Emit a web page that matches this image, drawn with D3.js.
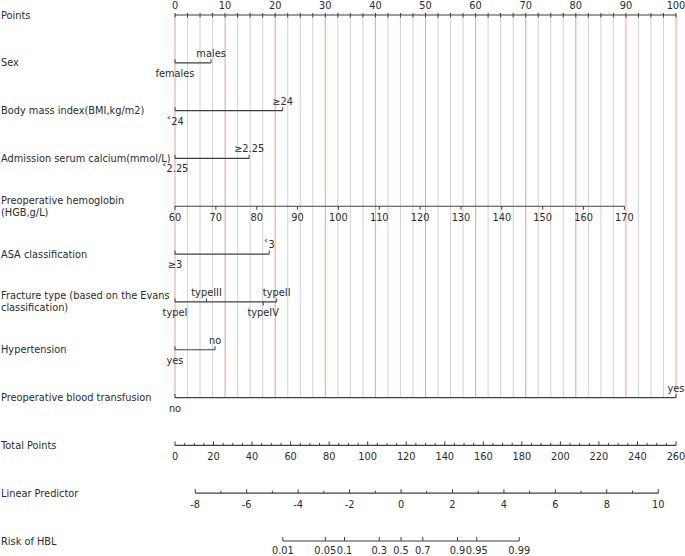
<!DOCTYPE html>
<html>
<head>
<meta charset="utf-8">
<script src="https://cdn.jsdelivr.net/npm/d3@7"></script>
<style>
  body { margin: 0; background: #fff; }
  text { font-family: "DejaVu Sans", sans-serif; fill: #2b2b2b; }
</style>
</head>
<body>
<script>
// rows of the nomogram, top to bottom
const rowLabels = [
  ["Points"],
  ["Sex"],
  ["Body mass index(BMI,kg/m2)"],
  ["Admission serum calcium(mmol/L)"],
  ["Preoperative hemoglobin", "(HGB,g/L)"],
  ["ASA classification"],
  ["Fracture type (based on the Evans", "classification)"],
  ["Hypertension"],
  ["Preoperative blood transfusion"],
  ["Total Points"],
  ["Linear Predictor"],
  ["Risk of HBL"]
];

const pointTicks = [0, 10, 20, 30, 40, 50, 60, 70, 80, 90, 100];

// categorical predictors: level names and their points
const sexLevels = ["females", "males"];
const sexPoints = [0, 7.2];
const bmiLevels = ["˂24", "≥24"];
const bmiPoints = [0, 21.5];
const calciumLevels = ["˂2.25", "≥2.25"];
const calciumPoints = [0, 14.8];
const asaLevels = ["≥3", "˂3"];
const asaPoints = [0, 18.8];
const fractureLevels = ["typeI", "typeIII", "typeIV", "typeII"];
const fracturePoints = [0, 6.3, 17.6, 20.3];
const hyperLevels = ["yes", "no"];
const hyperPoints = [0, 8.0];
const transfusionLevels = ["no", "yes"];
const transfusionPoints = [0, 100];

// continuous predictor: hemoglobin
const hgbTicks = [60, 70, 80, 90, 100, 110, 120, 130, 140, 150, 160, 170];
const hgbRange = [60, 170];
const hgbPointsRange = [0, 89.7];

// total points, linear predictor, risk
const totalTicks = [0, 20, 40, 60, 80, 100, 120, 140, 160, 180, 200, 220, 240, 260];
const totalRange = [0, 260];
const lpTicks = [-8, -6, -4, -2, 0, 2, 4, 6, 8, 10];
const lpRange = [-8, 10];
const lpTotalPoints = [10.5, 250.8];   // total points where LP = -8 and LP = 10
const riskTicks = [0.01, 0.05, 0.1, 0.3, 0.5, 0.7, 0.9, 0.95, 0.99];
const riskLabels = ["0.01", "0.05", "0.1", "0.3", "0.5", "0.7", "0.9", "0.95", "0.99"];

const W = 685, H = 556;
const svg = d3.select("body").append("svg").attr("width", W).attr("height", H);

const x = d3.scaleLinear().domain([0, 100]).range([175, 676]);
const y = d3.scalePoint().domain(d3.range(rowLabels.length)).range([15, 541]);
const lineCol = "#3f3f3f";
const fs = 9.8;

// vertical grid
const gridVals = d3.range(0, 100.01, 2.5);
svg.append("g").selectAll("line").data(gridVals).join("line")
  .attr("x1", d => x(d)).attr("x2", d => x(d))
  .attr("y1", y(0)).attr("y2", y(8))
  .attr("stroke", d => d % 10 === 0 ? "#f5a59c" : "#d6d6d6")
  .attr("stroke-width", 1.1);

// row labels
rowLabels.forEach((lines, i) => {
  const t = svg.append("text").attr("x", 1).attr("font-size", fs);
  const y0 = y(i) + 3.5 - (lines.length - 1) * 6;
  lines.forEach((s, j) => t.append("tspan").attr("x", 1).attr("y", y0 + j * 12).text(s));
});

function hline(g, x1, x2, yy) {
  g.append("line").attr("x1", x1).attr("x2", x2).attr("y1", yy).attr("y2", yy)
    .attr("stroke", lineCol).attr("stroke-width", 1.2);
}

// Points axis
{
  const g = svg.append("g");
  hline(g, x(0), x(100), y(0));
  g.selectAll(".mt").data(gridVals).join("line")
    .attr("x1", d => x(d)).attr("x2", d => x(d))
    .attr("y1", y(0) - 2).attr("y2", y(0) + 2.5)
    .attr("stroke", lineCol);
  g.selectAll("text").data(pointTicks).join("text")
    .attr("x", d => x(d)).attr("y", y(0) - 6)
    .attr("text-anchor", "middle").attr("font-size", fs)
    .text(d => d);
}

// categorical rows
function catRow(row, levels, pts, below) {
  const g = svg.append("g");
  const yy = y(row);
  hline(g, x(d3.min(pts)), x(d3.max(pts)), yy);
  levels.forEach((lv, i) => {
    const isBelow = below.includes(lv);
    const xx = x(pts[i]);
    const up = (i === 0 || i === levels.length - 1) ? true : !isBelow;
    g.append("line").attr("x1", xx).attr("x2", xx)
      .attr("y1", yy).attr("y2", up ? yy - 3.5 : yy + 3.5)
      .attr("stroke", lineCol).attr("stroke-width", 1);
    g.append("text").attr("x", xx).attr("y", isBelow ? yy + 14 : yy - 6)
      .attr("text-anchor", "middle").attr("font-size", fs).text(lv);
  });
}
catRow(1, sexLevels, sexPoints, ["females"]);
catRow(2, bmiLevels, bmiPoints, ["˂24"]);
catRow(3, calciumLevels, calciumPoints, ["˂2.25"]);
catRow(5, asaLevels, asaPoints, ["≥3"]);
catRow(6, fractureLevels, fracturePoints, ["typeI", "typeIV"]);
catRow(7, hyperLevels, hyperPoints, ["yes"]);
catRow(8, transfusionLevels, transfusionPoints, ["no"]);

// hemoglobin axis
{
  const hx = d3.scaleLinear().domain(hgbRange).range(hgbPointsRange.map(x));
  const g = svg.append("g");
  hline(g, hx(hgbRange[0]), hx(hgbRange[1]), y(4));
  g.selectAll(".t").data(hgbTicks).join("line")
    .attr("x1", d => hx(d)).attr("x2", d => hx(d))
    .attr("y1", y(4)).attr("y2", y(4) + 3.5).attr("stroke", lineCol);
  g.selectAll("text").data(hgbTicks).join("text")
    .attr("x", d => hx(d)).attr("y", y(4) + 15)
    .attr("text-anchor", "middle").attr("font-size", fs).text(d => d);
}

// total points
const tx = d3.scaleLinear().domain(totalRange).range([175, 676]);
{
  const g = svg.append("g");
  const yy = y(9);
  hline(g, tx(totalRange[0]), tx(totalRange[1]), yy);
  const minor = d3.range(totalRange[0], totalRange[1] + 0.01, 5);
  g.selectAll(".t").data(minor).join("line")
    .attr("x1", d => tx(d)).attr("x2", d => tx(d))
    .attr("y1", yy).attr("y2", d => totalTicks.includes(d) ? yy - 4 : yy - 2.5)
    .attr("stroke", lineCol);
  g.selectAll("text").data(totalTicks).join("text")
    .attr("x", d => tx(d)).attr("y", yy + 15)
    .attr("text-anchor", "middle").attr("font-size", fs).text(d => d);
}

// linear predictor
const lx = d3.scaleLinear().domain(lpRange).range(lpTotalPoints.map(tx));
{
  const g = svg.append("g");
  const yy = y(10);
  hline(g, lx(lpRange[0]), lx(lpRange[1]), yy);
  const minor = d3.range(lpRange[0], lpRange[1] + 0.01, 1);
  g.selectAll(".t").data(minor).join("line")
    .attr("x1", d => lx(d)).attr("x2", d => lx(d))
    .attr("y1", yy).attr("y2", d => lpTicks.includes(d) ? yy - 4 : yy - 2.5)
    .attr("stroke", lineCol);
  g.selectAll("text").data(lpTicks).join("text")
    .attr("x", d => lx(d)).attr("y", yy + 15)
    .attr("text-anchor", "middle").attr("font-size", fs).text(d => d);
}

// risk
{
  const logit = p => Math.log(p / (1 - p));
  const g = svg.append("g");
  const yy = y(11);
  hline(g, lx(logit(riskTicks[0])), lx(logit(riskTicks[riskTicks.length - 1])), yy);
  g.selectAll(".t").data(riskTicks).join("line")
    .attr("x1", d => lx(logit(d))).attr("x2", d => lx(logit(d)))
    .attr("y1", yy).attr("y2", yy - 4).attr("stroke", lineCol);
  g.selectAll("text").data(riskTicks).join("text")
    .attr("x", d => lx(logit(d))).attr("y", yy + 13)
    .attr("text-anchor", "middle").attr("font-size", fs)
    .text((d, i) => riskLabels[i]);
}
</script>
</body>
</html>
